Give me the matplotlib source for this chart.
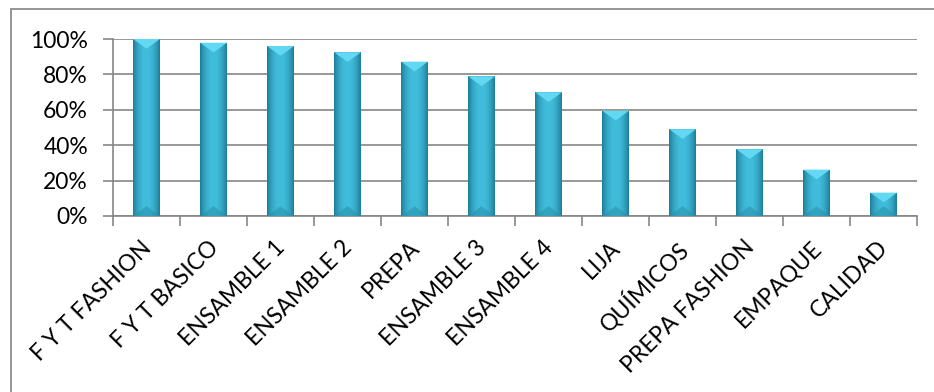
import numpy as np
import matplotlib
matplotlib.use("Agg")
import matplotlib.pyplot as plt
import matplotlib.transforms as mtransforms
from matplotlib.patches import Polygon, Rectangle
from matplotlib.colors import to_rgb
from matplotlib.ticker import PercentFormatter, MultipleLocator

areas = ["F Y T FASHION", "F Y T BASICO", "ENSAMBLE 1", "ENSAMBLE 2", "PREPA",
         "ENSAMBLE 3", "ENSAMBLE 4", "LIJA", "QUÍMICOS", "PREPA FASHION",
         "EMPAQUE", "CALIDAD"]
acumulado = [1.00, 0.979, 0.96, 0.925, 0.872, 0.789, 0.699, 0.595, 0.49,
             0.377, 0.262, 0.132]

plt.rcParams['font.family'] = ['Lato', 'DejaVu Sans']

fig = plt.figure(figsize=(9.34, 3.92), dpi=100)
ax = fig.add_axes([0.121, 0.449, 0.861, 0.4515])

# chart frame
fig.patches.append(Rectangle((11 / 934, -0.1), 1.2, 1.1 - 9 / 392,
                             transform=fig.transFigure, fill=False,
                             edgecolor='#8c8c8c', linewidth=1.3))

x = np.arange(len(areas))
width = 0.4
bars = ax.bar(x, acumulado, width=width, color='#38b2d2', zorder=2)

# bevelled look: dark edges, light centre, lighter top facet
edge = np.array(to_rgb('#1d7d97'))
mid = np.array(to_rgb('#41bddc'))
t = np.linspace(-1, 1, 64)
w = np.clip(np.abs(t) ** 2.2, 0, 1)[:, None]
grad = (mid * (1 - w) + edge * w)[None, :, :]
bevel = 0.055
for b, v in zip(bars, acumulado):
    x0 = b.get_x()
    x1 = x0 + b.get_width()
    xc = x0 + b.get_width() / 2
    im = ax.imshow(grad, extent=(x0, x1, 0, v), aspect='auto', zorder=3,
                   interpolation='bilinear')
    im.set_clip_path(b)
    h = min(bevel, v / 2)
    ax.add_patch(Polygon([(x0, v), (x1, v), (xc, v - h)], closed=True,
                         facecolor='#62d8f2', edgecolor='none', zorder=4))
    ax.add_patch(Polygon([(x0, 0), (x1, 0), (xc, h)], closed=True,
                         facecolor='#2a93ad', edgecolor='none', alpha=0.6,
                         zorder=4))

ax.set_xlim(-0.5, len(areas) - 0.5)
ax.set_ylim(0, 1.0)
ax.yaxis.set_major_locator(MultipleLocator(0.2))
ax.yaxis.set_major_formatter(PercentFormatter(1.0, decimals=0))
ax.grid(axis='y', color='#868686', linewidth=1.2, zorder=1)
ax.set_axisbelow(True)

ax.set_xticks(x)
ax.set_xticklabels(areas, rotation=45, ha='right', va='top',
                   rotation_mode='anchor', fontsize=16.5)
ax.tick_params(axis='x', length=0, pad=15)
shift = mtransforms.ScaledTranslation(-6 / 100, 0, fig.dpi_scale_trans)
for lbl in ax.get_xticklabels():
    lbl.set_transform(lbl.get_transform() + shift)
ax.set_xticks(np.arange(-0.5, len(areas)), minor=True)
ax.tick_params(axis='x', which='minor', length=7, color='#868686', width=1.2)
ax.tick_params(axis='y', length=7, color='#868686', width=1.2, labelsize=16.5,
               pad=11)

for s in ['top', 'right']:
    ax.spines[s].set_visible(False)
for s in ['left', 'bottom']:
    ax.spines[s].set_color('#868686')
    ax.spines[s].set_linewidth(1.2)

fig.savefig('out.png', dpi=100)
